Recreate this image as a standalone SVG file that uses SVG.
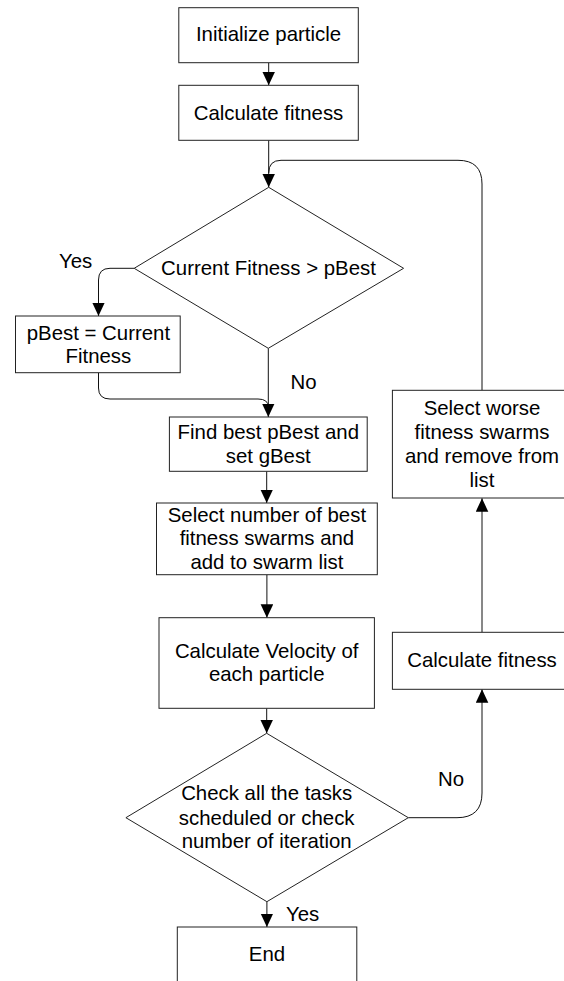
<svg xmlns="http://www.w3.org/2000/svg" width="564" height="981" viewBox="0 0 564 981">
<style>
.box{fill:#fff;stroke:#222;stroke-width:1}
.con{fill:none;stroke:#111;stroke-width:1}
text{font-family:"Liberation Sans",Arial,sans-serif;font-size:20.4px;fill:#000;text-anchor:middle}
.lbl{text-anchor:start}
</style>
<defs>
<marker id="ah" markerUnits="userSpaceOnUse" markerWidth="14" markerHeight="13" refX="13.5" refY="6.3" orient="auto">
<path d="M0,0 L13.5,6.3 L0,12.6 z" fill="#000"/>
</marker>
</defs>
<rect width="564" height="981" fill="#fff"/>
<g id="connectors">
<path class="con" d="M268.7,62.7 V85.3" marker-end="url(#ah)"/>
<path class="con" d="M268.7,140.3 V187.3" marker-end="url(#ah)"/>
<path class="con" d="M482,390.3 V184 Q482,160.3 458,160.3 H281 Q268.7,160.3 268.7,173"/>
<path class="con" d="M134.2,268.3 H110 Q98.5,268.3 98.5,280 V316" marker-end="url(#ah)"/>
<path class="con" d="M98.5,372.7 V388 Q98.5,399 110,399 H258 Q268.3,399 268.3,407"/>
<path class="con" d="M268.3,348.3 V417" marker-end="url(#ah)"/>
<path class="con" d="M266.7,471.3 V503" marker-end="url(#ah)"/>
<path class="con" d="M266.9,574.7 V617.7" marker-end="url(#ah)"/>
<path class="con" d="M266.7,708.3 V733.3" marker-end="url(#ah)"/>
<path class="con" d="M408.3,817.7 H457 Q482,817.7 482,793 V689.3" marker-end="url(#ah)"/>
<path class="con" d="M482,632.3 V498.3" marker-end="url(#ah)"/>
<path class="con" d="M266.9,901.7 V927" marker-end="url(#ah)"/>
<text class="lbl" x="59" y="268">Yes</text>
<text class="lbl" x="290.5" y="389">No</text>
<text class="lbl" x="438" y="786">No</text>
<text class="lbl" x="286" y="921">Yes</text>
</g>
<g id="init">
<rect class="box" x="178.8" y="7.7" width="179.5" height="55"/>
<text x="268.5" y="41.3">Initialize particle</text>
</g>
<g id="fitness1">
<rect class="box" x="178.8" y="85.3" width="179.5" height="55"/>
<text x="268.5" y="119.5">Calculate fitness</text>
</g>
<g id="decision1">
<polygon class="box" points="268.7,187.3 403.6,268.3 268.3,348.3 134.2,268.3"/>
<text x="268.5" y="274.5">Current Fitness &gt; pBest</text>
</g>
<g id="pbest">
<rect class="box" x="15.5" y="316" width="164.7" height="56.7"/>
<text x="98.4" y="340">pBest = Current</text>
<text x="98.4" y="363.3">Fitness</text>
</g>
<g id="gbest">
<rect class="box" x="169.4" y="417" width="197.8" height="54.3"/>
<text x="268.3" y="439">Find best pBest and</text>
<text x="268.3" y="463">set gBest</text>
</g>
<g id="select-best">
<rect class="box" x="156.5" y="503" width="220.8" height="71.7"/>
<text x="266.9" y="521.5">Select number of best</text>
<text x="266.9" y="545.3">fitness swarms and</text>
<text x="266.9" y="569">add to swarm list</text>
</g>
<g id="velocity">
<rect class="box" x="159" y="617.7" width="215.4" height="90.6"/>
<text x="266.7" y="657.5">Calculate Velocity of</text>
<text x="266.7" y="681.3">each particle</text>
</g>
<g id="decision2">
<polygon class="box" points="266.7,733.3 408.3,817.7 266.9,901.7 125.9,817.7"/>
<text x="266.7" y="800">Check all the tasks</text>
<text x="266.7" y="824.5">scheduled or check</text>
<text x="266.7" y="848.3">number of iteration</text>
</g>
<g id="fitness2">
<rect class="box" x="392.4" y="632.3" width="179.2" height="57"/>
<text x="482" y="667">Calculate fitness</text>
</g>
<g id="select-worse">
<rect class="box" x="392.4" y="390.3" width="179.2" height="107.7"/>
<text x="482" y="414.5">Select worse</text>
<text x="482" y="439">fitness swarms</text>
<text x="482" y="463">and remove from</text>
<text x="482" y="486.5">list</text>
</g>
<g id="end">
<rect class="box" x="177.3" y="927" width="179.5" height="80"/>
<text x="267" y="960.5">End</text>
</g>
</svg>
